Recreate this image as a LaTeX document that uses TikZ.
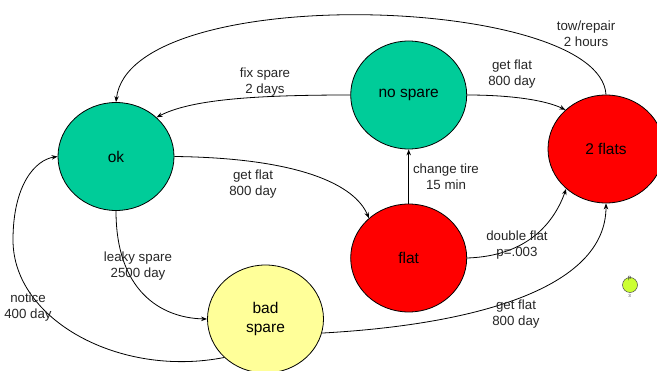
\documentclass[tikz,border=0pt]{standalone}
\usepackage{fontspec}
\setmainfont{Liberation Sans}
\usetikzlibrary{shapes.geometric,arrows.meta}
\definecolor{teal1}{RGB}{0,204,153}
\definecolor{red1}{RGB}{255,0,0}
\definecolor{yel1}{RGB}{255,255,153}
\definecolor{lime1}{RGB}{204,255,51}
\tikzset{
  stnode/.style={ellipse, draw=black, line width=0.8pt, minimum width=116pt, minimum height=108pt, inner sep=0pt, align=center, font=\fontsize{15.5}{19}\selectfont},
  lbl/.style={align=center, inner sep=0pt, font=\fontsize{13.3}{16}\selectfont, text=black!85},
  edge1/.style={line width=0.8pt, -{Stealth[length=6pt,width=4.5pt]}},
}
\begin{document}
\begin{tikzpicture}[x=1pt,y=-1pt]
\clip (0,0) rectangle (657,371);
\useasboundingbox (0,0) rectangle (657,371);
% states
\node[stnode, fill=teal1] (ok) at (116,156.5) {ok};
\node[stnode, fill=teal1] (nospare) at (408.7,95) {no spare};
\node[stnode, fill=red1] (twoflats) at (606,149) {2 flats};
\node[stnode, fill=red1] (flat) at (408.7,258) {flat};
\node[stnode, fill=yel1] (badspare) at (265.5,319) {bad\\spare};
% small marker
\node[circle, draw=black!70, fill=lime1, minimum size=15pt, inner sep=0pt, line width=0.5pt] (mark) at (630,285) {};
\node[inner sep=0pt, font=\fontsize{6}{6}\selectfont, text=black!75] (markp) at (629.5,279) {p};
\node[inner sep=0pt, font=\fontsize{4.5}{4.5}\selectfont, text=black!75] (mark3) at (629.5,296) {3};
% edges
\draw[edge1] (twoflats.north) .. controls (600,-5) and (130,-20) .. (ok.north);
\draw[edge1] (nospare.west) .. controls (250,95) and (190,100) .. (ok.44);
\draw[edge1] (ok.east) .. controls (300,158) and (355,185) .. (flat.135);
\draw[edge1] (ok.south) .. controls (116,290) and (160,318) .. (badspare.west);
\coordinate (nleft) at (13,240);
\draw[edge1] (badspare.223) .. controls (120,378) and (13,320) .. (nleft) .. controls (13,185) and (35,160) .. (ok.west);
\draw[edge1] (nospare.east) .. controls (510,95) and (545,100) .. (twoflats.136);
\draw[edge1] (flat.north) -- (nospare.south);
\draw[edge1] (flat.east) .. controls (530,256) and (555,220) .. (twoflats.225);
\draw[edge1] (badspare.-14) .. controls (470,325) and (606,290) .. (twoflats.south);
% labels
\node[lbl] (l1) at (586,34) {tow/repair\\2 hours};
\node[lbl] (l2) at (512,74.5) {get flat\\800 day};
\node[lbl] (l3) at (446,177) {change tire\\15 min};
\node[lbl] (l4) at (517,245) {double flat\\p=.003};
\node[lbl] (l5) at (516,314) {get flat\\800 day};
\node[lbl] (l6) at (265,82) {fix spare\\2 days};
\node[lbl] (l7) at (253,184) {get flat\\800 day};
\node[lbl] (l8) at (138,266) {leaky spare\\2500 day};
\node[lbl] (l9) at (28,307) {notice\\400 day};
\end{tikzpicture}
\end{document}
